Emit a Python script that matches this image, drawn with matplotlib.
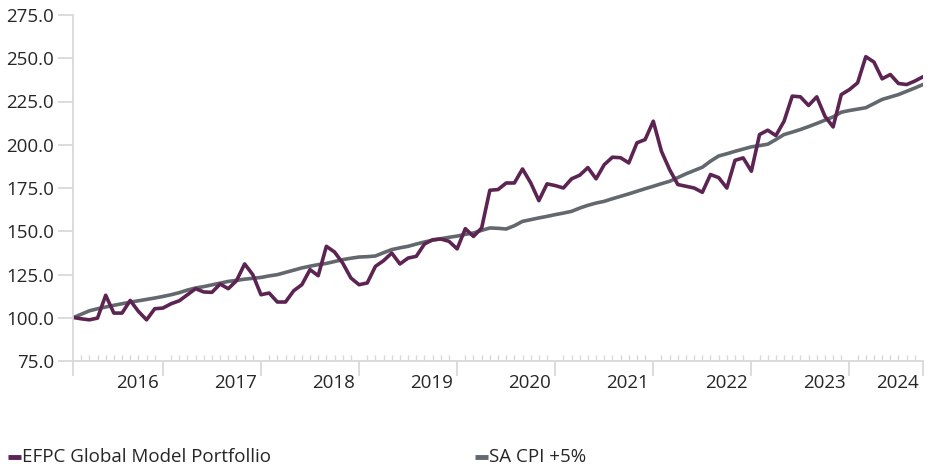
#! python3
# -*- coding: utf-8 -*-

import matplotlib
matplotlib.use('Agg')
import matplotlib.pyplot as plt
from matplotlib.lines import Line2D

plt.rcParams['font.family'] = ['Open Sans', 'DejaVu Sans']

# monthly index values
PORTFOLIO = [100.2, 99.4, 98.8, 99.8, 113.0, 102.7, 102.7, 110.0, 103.7, 98.8,
             105.2, 105.6, 108.1, 109.8, 113.3, 116.8, 114.9, 114.7, 119.5, 116.8,
             121.4, 131.1, 124.9, 113.3, 114.3, 109.1, 109.1, 115.6, 119.1, 127.8,
             124.3, 141.3, 138.0, 131.6, 123.0, 119.1, 120.1, 129.7, 133.0, 137.4,
             131.1, 134.5, 135.5, 142.6, 145.1, 145.5, 144.2, 139.8, 151.5, 147.0,
             151.9, 173.7, 174.1, 177.9, 177.9, 186.0, 178.0, 167.7, 177.4, 176.4,
             175.0, 180.3, 182.4, 186.8, 180.3, 188.5, 192.8, 192.5, 189.5, 201.1,
             203.0, 213.6, 196.2, 185.6, 177.0, 176.0, 175.0, 172.5, 182.8, 181.0,
             175.0, 191.0, 192.4, 184.7, 205.9, 208.4, 205.3, 213.6, 228.1, 227.7,
             222.7, 227.7, 216.5, 210.3, 229.0, 231.9, 235.8, 250.9, 247.8, 238.1,
             240.6, 235.4, 234.8, 236.8, 239.3]

CPI_PLUS5 = [100.0, 102.0, 104.0, 105.2, 106.2, 107.2, 108.1, 109.0, 109.8, 110.6,
             111.4, 112.3, 113.3, 114.5, 116.0, 117.2, 118.0, 119.0, 120.0, 121.0,
             121.6, 122.3, 122.8, 123.3, 124.2, 124.9, 126.2, 127.5, 128.8, 129.8,
             130.7, 131.4, 132.5, 133.6, 134.4, 135.1, 135.3, 135.7, 137.6, 139.4,
             140.4, 141.3, 142.6, 143.8, 144.8, 145.7, 146.5, 147.2, 148.2, 149.0,
             150.5, 151.9, 151.7, 151.3, 153.2, 155.7, 156.7, 157.7, 158.6, 159.6,
             160.5, 161.5, 163.4, 165.0, 166.3, 167.3, 168.8, 170.2, 171.6, 173.1,
             174.6, 176.0, 177.5, 178.9, 181.0, 183.2, 185.1, 187.0, 190.5, 193.5,
             194.8, 196.2, 197.5, 198.8, 199.5, 200.3, 203.0, 205.9, 207.3, 208.8,
             210.5, 212.3, 214.2, 216.1, 218.8, 219.8, 220.6, 221.4, 223.8, 226.2,
             227.6, 229.0, 230.9, 232.8, 234.8]

YEARS = ['2016', '2017', '2018', '2019', '2020', '2021', '2022', '2023', '2024']
YEAR_TICKS = [0, 11, 23, 35, 47, 59, 71, 83, 95, 104]
Y_TICKS = [75, 100, 125, 150, 175, 200, 225, 250, 275]

SERIES_NAMES = ['EFPC Global Model Portfollio', 'SA CPI +5%']
PURPLE = '#5c2452'
GREY = '#62686d'
AXIS_GREY = '#d9d9d9'
TEXT = '#262626'
FS = 13.5


def main():
    fig = plt.figure(figsize=(9.33, 4.70), dpi=100)
    ax = fig.add_axes([73 / 933, 1 - 361 / 470, 850 / 933, 346 / 470])

    x = list(range(len(PORTFOLIO)))
    ax.plot(x, CPI_PLUS5, color=GREY, lw=2.6, solid_joinstyle='round')
    ax.plot(x, PORTFOLIO, color=PURPLE, lw=2.6, solid_joinstyle='round')

    ax.set_xlim(0, len(PORTFOLIO) - 1)
    ax.set_ylim(75, 275)

    for side in ['top', 'right']:
        ax.spines[side].set_visible(False)
    for side in ['left', 'bottom']:
        ax.spines[side].set_color(AXIS_GREY)
        ax.spines[side].set_linewidth(1.3)

    # y axis
    ax.set_yticks(Y_TICKS)
    ax.set_yticklabels(['%.1f' % v for v in Y_TICKS])
    ax.tick_params(axis='y', direction='out', length=10.8, width=1.3, color=AXIS_GREY,
                   labelsize=FS, labelcolor=TEXT, pad=3)

    # x axis: long year ticks outward, monthly ticks inward
    ax.set_xticks(YEAR_TICKS)
    ax.set_xticklabels([''] * len(YEAR_TICKS))
    ax.set_xticks(x, minor=True)
    ax.tick_params(axis='x', which='major', direction='out', length=10.5, width=1.3,
                   color=AXIS_GREY)
    ax.tick_params(axis='x', which='minor', direction='in', length=4.5, width=1.0,
                   color=AXIS_GREY)

    # year labels sit just left of the following tick
    for i, year in enumerate(YEARS):
        pos = YEAR_TICKS[i + 1] - 3.1
        ax.text(pos, -0.065, year, transform=ax.get_xaxis_transform(),
                ha='center', va='center', fontsize=FS, color=TEXT)

    # legend along the bottom
    colours = [PURPLE, GREY]
    starts = [8, 475]
    for name, col, x0 in zip(SERIES_NAMES, colours, starts):
        fig.add_artist(Line2D([x0 / 933, (x0 + 13) / 933], [1 - 457 / 470] * 2,
                              color=col, lw=3.5, solid_capstyle='butt'))
        fig.text((x0 + 14) / 933, 1 - 457 / 470, name, ha='left', va='center',
                 fontsize=FS, color=TEXT)

    fig.savefig('out.png', dpi=100)
    plt.close(fig)


if __name__ == '__main__':
    main()
